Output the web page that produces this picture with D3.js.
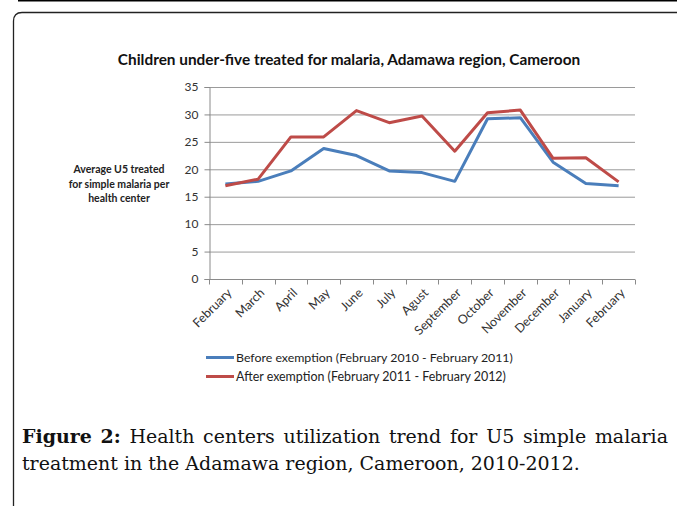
<!DOCTYPE html>
<html>
<head>
<meta charset="utf-8">
<script src="https://cdn.jsdelivr.net/npm/d3@7"></script>
<style>
  body { margin: 0; background: #fff; }
  svg { display: block; }
</style>
</head>
<body>
<div id="chart"></div>
<script>
// data
const months = ["February", "March", "April", "May", "June", "July", "Agust",
  "September", "October", "November", "December", "January", "February "];
const before = [17.3, 17.8, 19.7, 23.8, 22.5, 19.7, 19.4, 17.8, 29.2, 29.4, 21.3, 17.4, 17.0];
const after = [17.0, 18.2, 25.9, 25.9, 30.7, 28.5, 29.7, 23.3, 30.3, 30.8, 22.0, 22.1, 17.7];
const yTicks = [0, 5, 10, 15, 20, 25, 30, 35];
const seriesNames = ["Before exemption (February 2010 - February 2011)",
  "After exemption (February 2011 - February 2012)"];
const seriesColors = ["#4a7ebb", "#be4b48"];

const W = 677, H = 506;
const font = "Lato, 'Open Sans', sans-serif";
const svg = d3.select("#chart").append("svg")
  .attr("width", W).attr("height", H);

// shrink/grow a text so it spans a given width
function fitWidth(sel, size, target) {
  sel.attr("font-size", size);
  const w = sel.node().getComputedTextLength();
  sel.attr("font-size", size * target / w);
}

// page frame
svg.append("line").attr("x1", 18).attr("x2", W).attr("y1", 0.5).attr("y2", 0.5)
  .attr("stroke", "#000").attr("stroke-width", 2);
svg.append("path")
  .attr("d", `M13.5,${H + 5} V21 Q13.5,12.5 22,12.5 H${W + 5}`)
  .attr("fill", "none").attr("stroke", "#222").attr("stroke-width", 1.3);

// plot area
const plotL = 209, plotR = 635, plotT = 87, plotB = 279;
const x = d3.scaleBand().domain(months).range([plotL, plotR]);
const y = d3.scaleLinear().domain([0, 35]).range([plotB, plotT]);

// gridlines
svg.append("g").selectAll("line").data(yTicks.filter(d => d > 0)).join("line")
  .attr("x1", plotL).attr("x2", plotR)
  .attr("y1", d => y(d) + 0.5).attr("y2", d => y(d) + 0.5)
  .attr("stroke", "#9a9a9a").attr("stroke-width", 1);

// y axis
const yAxis = svg.append("g").attr("transform", `translate(${plotL + 0.5},0)`)
  .call(d3.axisLeft(y).tickValues(yTicks).tickSize(5).tickPadding(6));
yAxis.select(".domain").attr("stroke", "#8a8a8a");
yAxis.selectAll(".tick line").attr("stroke", "#8a8a8a");
yAxis.selectAll("text").attr("font-family", font)
  .attr("font-size", 12).attr("fill", "#333");

// x axis with ticks at band boundaries
const xAxis = svg.append("g").attr("transform", `translate(0,${plotB + 0.5})`);
xAxis.append("line").attr("x1", plotL).attr("x2", plotR)
  .attr("stroke", "#8a8a8a");
const bounds = months.map(m => x(m)).concat([plotR]);
xAxis.selectAll("line.tk").data(bounds).join("line").attr("class", "tk")
  .attr("x1", d => Math.round(d) + 0.5).attr("x2", d => Math.round(d) + 0.5)
  .attr("y1", 0).attr("y2", 5).attr("stroke", "#8a8a8a");
xAxis.selectAll("text").data(months).join("text")
  .attr("transform", d => `translate(${x(d) + x.bandwidth() / 2 + 4},${11}) rotate(-45)`)
  .attr("text-anchor", "end").attr("dy", "0.35em")
  .attr("font-family", font).attr("font-size", 12.5)
  .attr("fill", "#333")
  .text(d => d.trim());

// lines
const line = d3.line()
  .x((d, i) => x(months[i]) + x.bandwidth() / 2)
  .y(d => y(d));
[before, after].forEach((s, i) => {
  svg.append("path").datum(s)
    .attr("d", line).attr("fill", "none")
    .attr("stroke", seriesColors[i]).attr("stroke-width", 3)
    .attr("stroke-linejoin", "round");
});

// title
const title = svg.append("text")
  .attr("x", 349).attr("y", 65).attr("text-anchor", "middle")
  .attr("font-family", font).attr("font-weight", "bold")
  .attr("fill", "#111")
  .text("Children under-five treated for malaria, Adamawa region, Cameroon");
fitWidth(title, 13, 463);

// y axis title
const yLab = ["Average U5 treated", "for simple malaria per", "health center"];
svg.append("g").selectAll("text").data(yLab).join("text")
  .attr("x", 119).attr("y", (d, i) => 173 + i * 14.5)
  .attr("text-anchor", "middle")
  .attr("font-family", font).attr("font-weight", "bold")
  .attr("font-size", 10.5).attr("fill", "#222")
  .text(d => d);

// legend
const leg = svg.append("g");
seriesNames.forEach((n, i) => {
  const ly = 357.5 + i * 19;
  leg.append("line").attr("x1", 206).attr("x2", 234)
    .attr("y1", ly).attr("y2", ly)
    .attr("stroke", seriesColors[i]).attr("stroke-width", 3);
  const t = leg.append("text").attr("x", 236).attr("y", ly).attr("dy", "0.35em")
    .attr("font-family", font)
    .attr("fill", "#222").text(n);
  fitWidth(t, 12, i === 0 ? 277 : 270);
});

// caption, first line justified word by word
const capFont = "'DejaVu Serif', serif";
const cap2 = svg.append("text").attr("x", 22).attr("y", 470)
  .attr("font-family", capFont).attr("fill", "#111")
  .text("treatment in the Adamawa region, Cameroon, 2010-2012.");
fitWidth(cap2, 18, 558);
const capSize = +cap2.attr("font-size");

const capWords = "Figure 2: Health centers utilization trend for U5 simple malaria".split(" ");
const cap1 = svg.append("text").attr("y", 443)
  .attr("font-family", capFont).attr("font-size", capSize).attr("fill", "#111");
const spans = capWords.map((w, i) => cap1.append("tspan")
  .attr("font-weight", i < 2 ? "bold" : null).text(w));
const widths = spans.map(s => s.node().getComputedTextLength());
const gap = (668 - 22 - d3.sum(widths)) / (capWords.length - 1);
let cx = 22;
spans.forEach((s, i) => { s.attr("x", cx); cx += widths[i] + gap; });
</script>
</body>
</html>
